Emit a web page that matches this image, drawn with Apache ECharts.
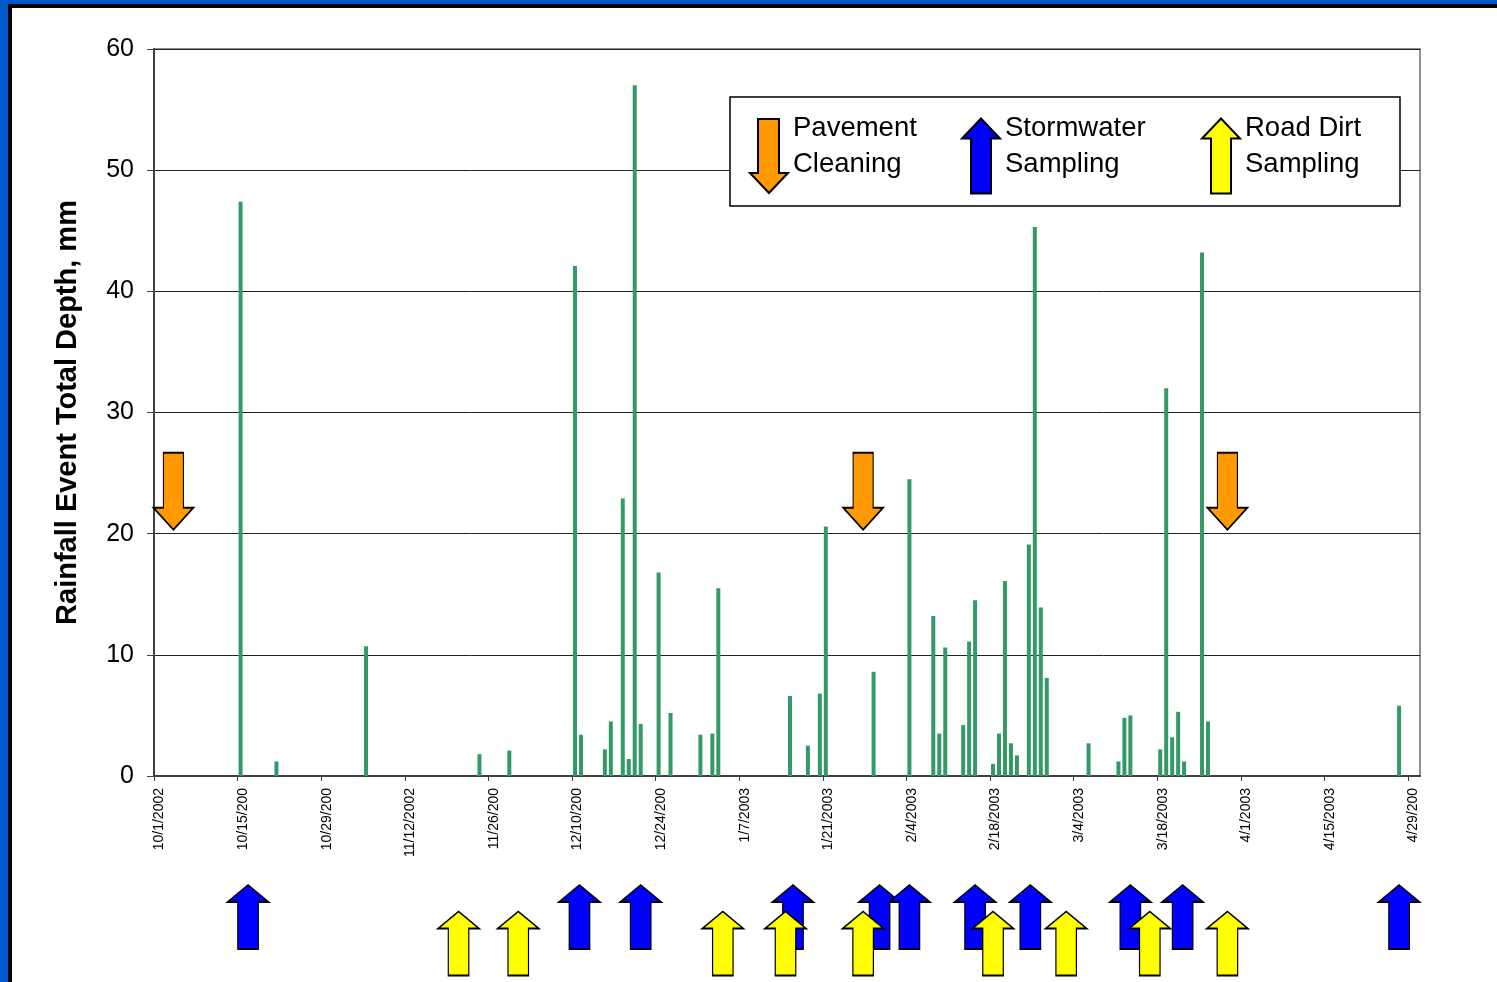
<!DOCTYPE html>
<html>
<head>
<meta charset="utf-8">
<title>Rainfall events</title>
<script src="https://cdn.jsdelivr.net/npm/echarts@6/dist/echarts.min.js"></script>
<style>
  html, body { margin: 0; padding: 0; background: #fff; }
  #echart { position: absolute; left: 0; top: 0; width: 1497px; height: 982px; }
  .frame { position: absolute; }
</style>
</head>
<body>
<div id="echart"></div>
<!-- slide frame -->
<div class="frame" style="left:0;top:0;width:1497px;height:4px;background:#0057c8"></div>
<div class="frame" style="left:0;top:0;width:8px;height:982px;background:#0057c8"></div>
<div class="frame" style="left:8px;top:4px;width:1489px;height:4px;background:#000"></div>
<div class="frame" style="left:8px;top:4px;width:4px;height:978px;background:#000"></div>
<script>
// rainfall events
var rainDates = ['2002-10-15','2002-10-21','2002-11-05','2002-11-24','2002-11-29',
  '2002-12-10','2002-12-11','2002-12-15','2002-12-16','2002-12-18',
  '2002-12-19','2002-12-20','2002-12-21','2002-12-24','2002-12-26',
  '2002-12-31','2003-01-02','2003-01-03','2003-01-15','2003-01-18',
  '2003-01-20','2003-01-21','2003-01-29','2003-02-04','2003-02-08',
  '2003-02-09','2003-02-10','2003-02-13','2003-02-14','2003-02-15',
  '2003-02-18','2003-02-19','2003-02-20','2003-02-21','2003-02-22',
  '2003-02-24','2003-02-25','2003-02-26','2003-02-27','2003-03-06',
  '2003-03-11','2003-03-12','2003-03-13','2003-03-18','2003-03-19',
  '2003-03-20','2003-03-21','2003-03-22','2003-03-25','2003-03-26',
  '2003-04-27'];
var rainDepth = [47.4, 1.2, 10.7, 1.8, 2.1,
  42.1, 3.4, 2.2, 4.5, 22.9,
  1.4, 57.0, 4.3, 16.8, 5.2,
  3.4, 3.5, 15.5, 6.6, 2.5,
  6.8, 20.6, 8.6, 24.5, 13.2,
  3.5, 10.6, 4.2, 11.1, 14.5,
  1.0, 3.5, 16.1, 2.7, 1.7,
  19.1, 45.3, 13.9, 8.1, 2.7,
  1.2, 4.8, 5.0, 2.2, 32.0,
  3.2, 5.3, 1.2, 43.2, 4.5,
  5.8];

// arrow markers
var cleaningDates = ['2002-10-04 06:00', '2003-01-27 18:00', '2003-03-29 18:00'];
var cleaningLevel = [23.5, 23.5, 23.5];
var stormwaterDates = ['2002-10-16 18:00','2002-12-11 06:00','2002-12-21 12:00','2003-01-16 00:00',
  '2003-01-30 12:00','2003-02-04 12:00','2003-02-15 12:00','2003-02-24 18:00',
  '2003-03-13 12:00','2003-03-22 06:00','2003-04-27 12:00'];
var roadDirtDates = ['2002-11-21 00:00','2002-12-01 00:00','2003-01-04 06:00','2003-01-14 18:00',
  '2003-01-27 18:00','2003-02-18 12:00','2003-03-02 18:00','2003-03-16 18:00','2003-03-29 18:00'];

// x axis ticks (every 14 days from 10/1/2002)
var tickLabels = ['10/1/2002','10/15/200','10/29/200','11/12/2002','11/26/200','12/10/200',
  '12/24/200','1/7/2003','1/21/2003','2/4/2003','2/18/2003','3/4/2003','3/18/2003',
  '4/1/2003','4/15/2003','4/29/200'];
var yTicks = [0, 10, 20, 30, 40, 50, 60];

var START = Date.UTC(2002, 9, 1);
var END = Date.UTC(2003, 4, 1);
var DAY = 86400000;

// date string -> days since 10/1/2002
function dayOf(s) {
  var parts = s.split(' ');
  var d = parts[0].split('-').map(Number);
  var ms = Date.UTC(d[0], d[1] - 1, d[2]);
  if (parts[1]) {
    var t = parts[1].split(':').map(Number);
    ms += (t[0] * 60 + t[1]) * 60000;
  }
  return (ms - START) / DAY;
}

var upArrow = 'path://M20,0 L40,17 L30,17 L30,64 L10,64 L10,17 L0,17 Z';
var downArrow = 'path://M10,0 L30,0 L30,55 L40,55 L20,77 L0,55 L10,55 Z';
// legend icons are taller and thinner
var upIcon = 'path://M19,0 L38,20 L29,20 L29,75 L9,75 L9,20 L0,20 Z';
var downIcon = 'path://M8,0 L29,0 L29,54 L38,54 L19,74 L0,54 L8,54 Z';
var font = '"Liberation Sans", Arial, sans-serif';

// two text lines plus an empty spacer line, so the text sits a bit higher than the icon centre
var legendText = {
  rich: {
    t: { color: '#000', fontSize: 27.5, lineHeight: 36, fontFamily: font },
    s: { fontSize: 10, lineHeight: 20 }
  }
};
function legendFormat(name) {
  return name.split('\n').map(function (l) { return '{t|' + l + '}'; }).join('\n') + '\n{s| }';
}

var myChart = echarts.init(document.getElementById('echart'));
var option = {
  animation: false,
  backgroundColor: '#fff',
  textStyle: { fontFamily: font },
  grid: [
    { left: 154, top: 49, width: 1266, height: 727, show: true, borderColor: '#909090', borderWidth: 2 },
    { left: 154, top: 917, width: 1266, height: 26.5 }
  ],
  legend: [
    { left: 749, top: 114, padding: 0, itemWidth: 38, itemHeight: 75, textStyle: legendText,
      formatter: legendFormat, data: [{ name: 'Pavement\nCleaning', icon: downIcon }] },
    { left: 961, top: 114, padding: 0, itemWidth: 38, itemHeight: 75, textStyle: legendText,
      formatter: legendFormat, data: [{ name: 'Stormwater\nSampling', icon: upIcon }] },
    { left: 1201, top: 114, padding: 0, itemWidth: 38, itemHeight: 75, textStyle: legendText,
      formatter: legendFormat, data: [{ name: 'Road Dirt\nSampling', icon: upIcon }] }
  ],
  graphic: [
    { type: 'rect', z: 3, shape: { x: 730, y: 97, width: 670, height: 109 },
      style: { fill: '#fff', stroke: '#000', lineWidth: 1.5 } }
  ],
  xAxis: [
    {
      type: 'value', gridIndex: 0,
      min: 0, max: (END - START) / DAY, interval: 14,
      axisLine: { lineStyle: { color: '#404040', width: 2 } },
      axisTick: { length: 5, lineStyle: { color: '#404040' } },
      splitLine: { show: false },
      axisLabel: {
        rotate: 90, margin: 12, fontSize: 14, color: '#000',
        verticalAlign: 'top', lineHeight: 11,
        showMaxLabel: false,
        formatter: function (v) {
          var i = Math.round(v / 14);
          return Math.abs(v - i * 14) < 0.01 && tickLabels[i] ? tickLabels[i] : '';
        }
      }
    },
    { type: 'value', gridIndex: 1, min: 0, max: (END - START) / DAY, show: false }
  ],
  yAxis: [
    {
      type: 'value', gridIndex: 0,
      min: yTicks[0], max: yTicks[yTicks.length - 1], interval: 10,
      name: 'Rainfall Event Total Depth, mm',
      nameLocation: 'middle', nameGap: 72,
      nameTextStyle: { fontSize: 29, fontWeight: 'bold', color: '#000' },
      axisLine: { show: true, lineStyle: { color: '#404040', width: 2 } },
      axisTick: { show: true, length: 7, lineStyle: { color: '#404040' } },
      axisLabel: { fontSize: 25, color: '#000', margin: 20 },
      splitLine: { lineStyle: { color: '#222', width: 1 } }
    },
    { type: 'value', gridIndex: 1, min: 0, max: 1, show: false }
  ],
  series: [
    {
      name: 'Rainfall',
      type: 'bar',
      xAxisIndex: 0, yAxisIndex: 0,
      barWidth: 4,
      itemStyle: { color: '#339966' },
      // columns sit in the middle of their day
      data: rainDates.map(function (d, i) { return [dayOf(d) + 0.5, rainDepth[i]]; })
    },
    {
      name: 'Pavement\nCleaning',
      type: 'scatter',
      xAxisIndex: 0, yAxisIndex: 0,
      symbol: downArrow, symbolSize: [40, 77], z: 5,
      itemStyle: { color: '#ff9900', borderColor: '#000', borderWidth: 1.5, opacity: 1 },
      data: cleaningDates.map(function (d, i) { return [dayOf(d), cleaningLevel[i]]; })
    },
    {
      name: 'Stormwater\nSampling',
      type: 'scatter',
      xAxisIndex: 1, yAxisIndex: 1,
      symbol: upArrow, symbolSize: [41, 64],
      itemStyle: { color: '#0000ff', borderColor: '#000', borderWidth: 1.5, opacity: 1 },
      data: stormwaterDates.map(function (d) { return [dayOf(d), 1]; })
    },
    {
      name: 'Road Dirt\nSampling',
      type: 'scatter',
      xAxisIndex: 1, yAxisIndex: 1,
      symbol: upArrow, symbolSize: [41, 64],
      itemStyle: { color: '#ffff00', borderColor: '#000', borderWidth: 1.5, opacity: 1 },
      data: roadDirtDates.map(function (d) { return [dayOf(d), 0]; })
    }
  ]
};
myChart.setOption(option);
</script>
</body>
</html>
